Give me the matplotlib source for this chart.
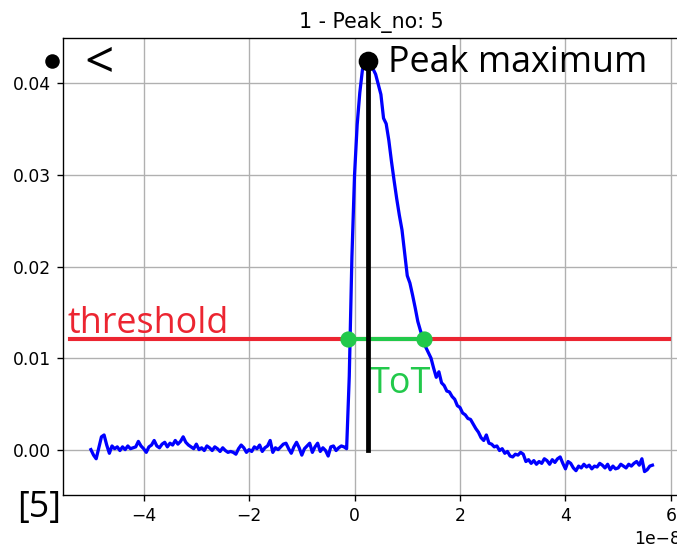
import matplotlib.pyplot as plt
import numpy as np

# Waveform, sampled every 0.05 (x 1e-8 s) from -5.00 to 5.65, amplitude in mV
T_START = -5.00
T_END = 5.65
AMPLITUDE_MV = [
    # baseline -5.00 ... -0.15
    0.0, -0.6, -1.0, 0.2, 1.4, 1.6, 0.5, -0.4, 0.4, 0.1,
    0.3, -0.1, 0.3, 0.0, 0.4, 0.1, 0.2, 0.3, 0.9, 0.4,
    0.1, -0.3, 0.3, 0.5, 1.0, 0.4, 0.2, 0.6, 0.8, 0.3,
    0.7, 0.5, 1.0, 0.6, 0.9, 1.4, 0.8, 0.5, 0.3, 0.1,
    0.6, 0.0, 0.2, -0.1, 0.4, 0.2, -0.1, 0.3, 0.1, -0.2,
    0.2, -0.1, -0.3, -0.2, -0.3, -0.5, 0.1, 0.5, 0.2, -0.3,
    0.0, -0.2, 0.3, 0.1, 0.5, -0.2, 0.2, 0.4, 1.0, -0.3,
    0.2, 0.0, 0.3, 0.6, 0.7, 0.1, -0.4, 0.3, 0.8, 0.2,
    -0.6, 0.1, 0.4, 0.7, -0.3, 0.3, 0.7, -0.2, 0.2, -0.1,
    -0.7, 0.3, 0.4, -0.1, 0.2, 0.4, 0.3, 0.1,
    # rise and peak -0.10 ... 0.45
    8.0, 21.0, 30.0, 35.5, 39.0, 41.5, 42.4, 42.5, 42.2, 41.6,
    41.0, 39.9,
    # decay 0.50 ... 2.95
    38.8, 36.2, 35.6, 33.8, 31.5, 29.4, 27.4, 25.6, 24.0, 21.5,
    19.0, 18.2, 16.9, 15.5, 14.0, 13.0, 12.1, 11.2, 10.6, 10.0,
    8.9, 7.9, 8.5, 7.3, 7.0, 6.4, 6.3, 5.8, 5.5, 4.8,
    4.6, 4.0, 3.8, 3.4, 3.3, 2.8, 2.3, 1.9, 1.3, 1.0,
    1.6, 0.7, 0.6, 0.3, 0.4, -0.1, 0.1, -0.4, -0.2, -0.7,
    # tail 3.00 ... 5.65
    -0.8, -0.5, -0.6, -0.3, -0.5, -1.3, -1.1, -1.5, -1.2, -1.6,
    -1.3, -1.5, -1.0, -1.2, -1.6, -1.1, -1.4, -1.0, -0.8, -1.5,
    -2.1, -1.3, -1.5, -2.0, -2.3, -1.8, -2.0, -1.6, -1.9, -1.7,
    -2.1, -1.8, -1.9, -1.5, -1.7, -2.0, -1.6, -2.2, -1.8, -2.1,
    -2.0, -1.6, -1.8, -2.0, -1.6, -1.8, -1.5, -1.3, -1.7, -1.0,
    -2.4, -2.2, -1.8, -1.7,
]

PANEL_ID = 1
PEAK_NO = 5

# Annotation values (time in 1e-8 s, amplitude in V)
PEAK_TIME = 0.25
PEAK_VALUE = 0.0425
THRESHOLD = 0.0121
THRESHOLD_SPAN = (-5.39, 5.96)
TOT_START = -0.13
TOT_END = 1.31
LEFT_MARK_TIME = -5.73

SCALE = 1e-8
RED = "#ec2531"
GREEN = "#22c94b"
NOTE_FONT = ["Open Sans", "DejaVu Sans"]


def main():
    dpi = 123
    fig = plt.figure(figsize=(677 / dpi, 545 / dpi), dpi=dpi)
    ax = fig.add_axes([0.093, 0.0917, 0.912, 0.8385])

    amp = np.array(AMPLITUDE_MV) * 1e-3
    t = np.linspace(T_START, T_END, len(amp)) * SCALE

    ax.plot(t, amp, color="blue", linewidth=1.9, zorder=3)

    # threshold + time over threshold
    ax.plot(np.array(THRESHOLD_SPAN) * SCALE, [THRESHOLD, THRESHOLD],
            color=RED, linewidth=2.4, zorder=2)
    ax.plot(np.array([TOT_START, TOT_END]) * SCALE, [THRESHOLD, THRESHOLD],
            color=GREEN, linewidth=2.4, zorder=4)
    ax.plot(np.array([TOT_START, TOT_END]) * SCALE, [THRESHOLD, THRESHOLD],
            "o", color=GREEN, markersize=8.5, zorder=5)

    # peak maximum
    ax.plot([PEAK_TIME * SCALE, PEAK_TIME * SCALE], [0.0, PEAK_VALUE],
            color="black", linewidth=2.8, zorder=4)
    ax.plot([PEAK_TIME * SCALE], [PEAK_VALUE], "o", color="black",
            markersize=10.5, zorder=6)
    ax.plot([LEFT_MARK_TIME * SCALE], [PEAK_VALUE], "o", color="black",
            markersize=7.5, zorder=6, clip_on=False)

    ax.text(0.63 * SCALE, 0.0422, "Peak maximum", fontsize=21,
            family=NOTE_FONT, va="center", ha="left")
    ax.text(-5.12 * SCALE, 0.0421, "<", fontsize=30,
            family=NOTE_FONT, va="center", ha="left")
    ax.text(-5.45 * SCALE, 0.01276, "threshold", fontsize=21,
            family=NOTE_FONT, color=RED, va="baseline", ha="left")
    ax.text(0.29 * SCALE, 0.0062, "ToT", fontsize=21,
            family=NOTE_FONT, color=GREEN, va="baseline", ha="left")
    fig.text(17 / 677, 1 - 508 / 545, f"[{PEAK_NO}]", fontsize=21,
             family=NOTE_FONT, va="center", ha="left")

    ax.set_xlim(-5.53 * SCALE, 6.18 * SCALE)
    ax.set_ylim(-0.00496, 0.04496)
    ax.grid(True)
    ax.set_title(f"{PANEL_ID} - Peak_no: {PEAK_NO}")

    fig.savefig("out.png", dpi=dpi)
    plt.close(fig)


if __name__ == "__main__":
    main()
